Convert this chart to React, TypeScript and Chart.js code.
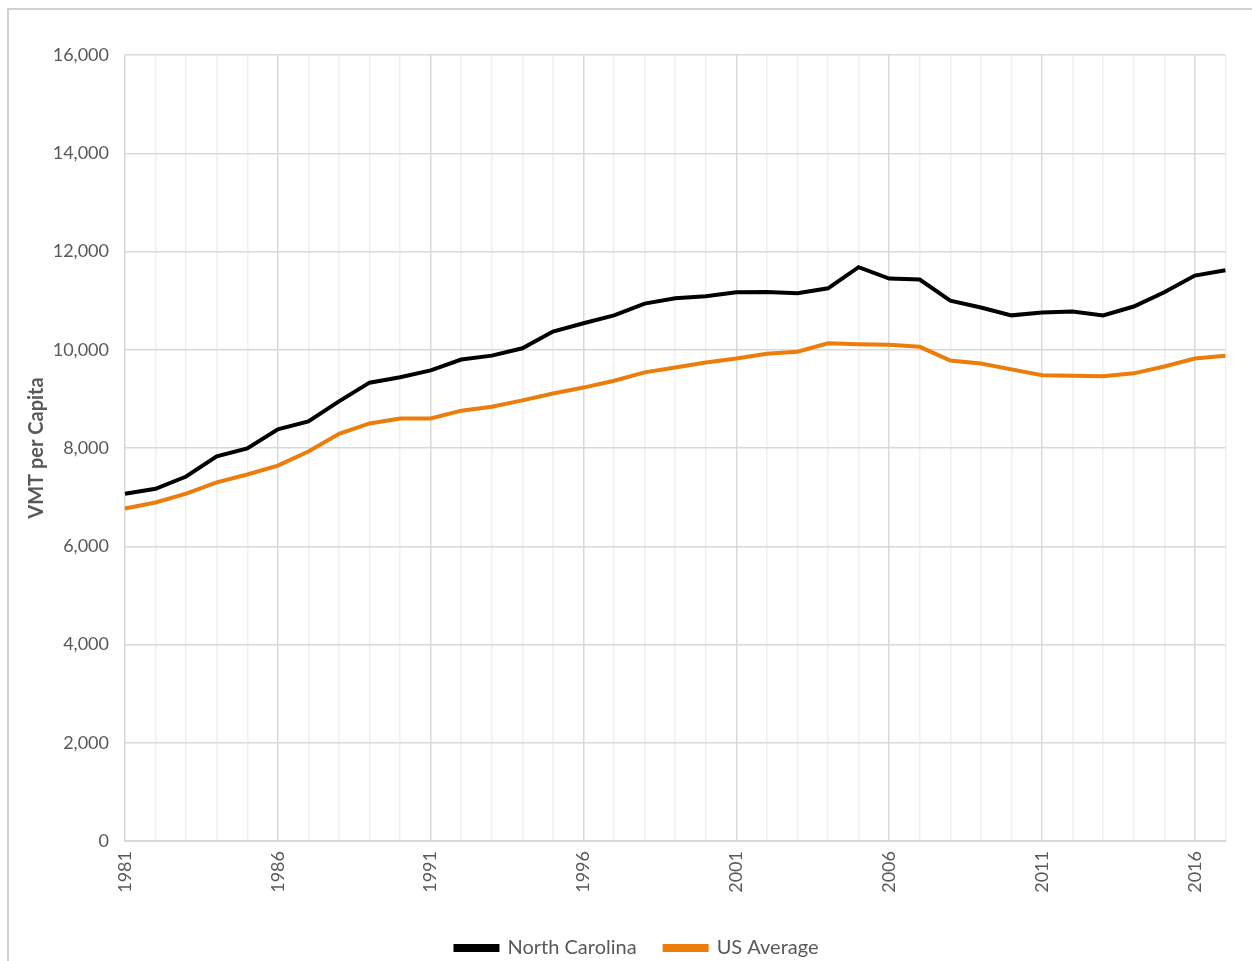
import React, { useEffect, useRef } from "react";
import { Chart, registerables } from "chart.js";

Chart.register(...registerables);

const years: string[] = [];
for (let y = 1981; y <= 2017; y++) years.push(String(y));

const northCarolina = [
  7070, 7170, 7420, 7830, 7990, 8380, 8540, 8950, 9330, 9440,
  9580, 9800, 9880, 10030, 10370, 10540, 10700, 10940, 11050, 11090,
  11170, 11175, 11150, 11250, 11680, 11450, 11430, 11000, 10860, 10700,
  10760, 10780, 10700, 10880, 11170, 11510, 11620,
];

const usAverage = [
  6770, 6890, 7070, 7300, 7460, 7640, 7930, 8290, 8500, 8600,
  8600, 8760, 8840, 8970, 9110, 9230, 9370, 9540, 9640, 9740,
  9820, 9920, 9960, 10130, 10110, 10100, 10060, 9780, 9720, 9600,
  9480, 9470, 9460, 9520, 9660, 9820, 9880,
];

const FONT = "Lato, 'Open Sans', sans-serif";
const TEXT = "#595959";

export default function App() {
  const ref = useRef<HTMLCanvasElement | null>(null);
  useEffect(() => {
    if (!ref.current) return;
    const chart = new Chart(ref.current, {
      type: "line",
      data: {
        labels: years,
        datasets: [
          {
            label: "North Carolina",
            data: northCarolina,
            borderColor: "#000000",
            backgroundColor: "#000000",
            borderWidth: 4,
            pointRadius: 0,
            tension: 0,
          },
          {
            label: "US Average",
            data: usAverage,
            borderColor: "#ED7D0A",
            backgroundColor: "#ED7D0A",
            borderWidth: 4,
            pointRadius: 0,
            tension: 0,
          },
        ],
      },
      options: {
        animation: false,
        responsive: false,
        maintainAspectRatio: false,
        layout: { padding: { left: 8, right: 0, top: 45, bottom: 0 } },
        plugins: {
          tooltip: { enabled: false },
          legend: {
            position: "bottom",
            labels: {
              color: TEXT,
              font: { family: FONT, size: 20 },
              boxWidth: 42,
              boxHeight: 4,
              padding: 28,
            },
          },
        },
        scales: {
          x: {
            type: "category",
            offset: false,
            grid: {
              color: (ctx: any) => (ctx.index % 5 === 0 ? "#d9d9d9" : "#efefef"),
              lineWidth: 1.5,
              drawTicks: false,
            },
            border: { color: "#d9d9d9", width: 2 },
            ticks: {
              autoSkip: false,
              maxRotation: 90,
              minRotation: 90,
              padding: 10,
              color: TEXT,
              font: { family: FONT, size: 18 },
              callback: (_v: any, i: number) => (i % 5 === 0 ? years[i] : ""),
            },
            afterFit: (s: any) => {
              s.height = 69;
            },
          },
          y: {
            min: 0,
            max: 16000,
            grid: { color: "#d9d9d9", lineWidth: 1.5, drawTicks: false },
            border: { display: false },
            ticks: {
              stepSize: 2000,
              padding: 16,
              color: TEXT,
              font: { family: FONT, size: 18 },
              callback: (v: any) => Number(v).toLocaleString("en-US"),
            },
            title: {
              display: true,
              text: "VMT per Capita",
              color: TEXT,
              padding: { top: 8, bottom: 0 },
              font: { family: FONT, size: 20, weight: "bold" },
            },
            afterFit: (s: any) => {
              s.width = 108;
            },
          },
        },
      },
    });
    return () => chart.destroy();
  }, []);

  return (
    <div
      style={{
        position: "absolute",
        left: 7,
        top: 8,
        width: 1245,
        height: 953,
        overflow: "hidden",
        borderTop: "2px solid #d0d0d0",
        borderLeft: "2px solid #d0d0d0",
        boxSizing: "border-box",
        background: "#fff",
      }}
    >
      <canvas ref={ref} width={1248} height={958} style={{ display: "block" }} />
    </div>
  );
}
